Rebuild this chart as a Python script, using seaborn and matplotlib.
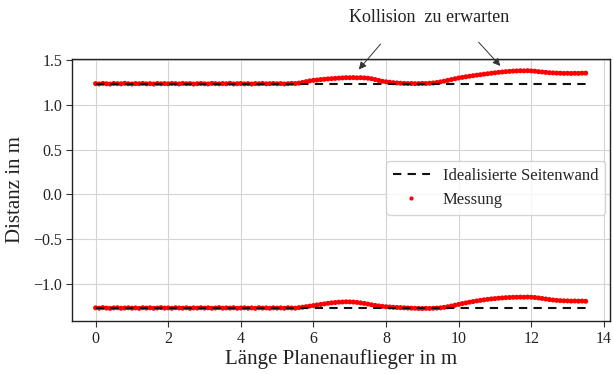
import numpy as np
import pandas as pd
import matplotlib
matplotlib.use("Agg")
import matplotlib.pyplot as plt
import seaborn as sns
from matplotlib.lines import Line2D

# ---- data ----
x_pos = np.round(np.arange(0, 13.55, 0.1), 2)

meas_top = [
    1.236, 1.232, 1.238, 1.234, 1.231, 1.237, 1.235, 1.233, 1.239, 1.234,
    1.232, 1.236, 1.234, 1.238, 1.233, 1.235, 1.231, 1.237, 1.234, 1.236,
    1.233, 1.237, 1.235, 1.232, 1.238, 1.234, 1.236, 1.231, 1.235, 1.237,
    1.234, 1.232, 1.238, 1.235, 1.233, 1.236, 1.234, 1.239, 1.232, 1.235,
    1.237, 1.233, 1.235, 1.231, 1.236, 1.234, 1.238, 1.233, 1.235, 1.237,
    1.234, 1.236, 1.232, 1.235, 1.238, 1.236, 1.241, 1.249, 1.258, 1.266,
    1.272, 1.276, 1.281, 1.284, 1.288, 1.291, 1.294, 1.297, 1.299, 1.302,
    1.301, 1.303, 1.300, 1.302, 1.299, 1.296, 1.290, 1.281, 1.271, 1.262,
    1.256, 1.251, 1.246, 1.243, 1.240, 1.238, 1.236, 1.237, 1.235, 1.236,
    1.238, 1.237, 1.240, 1.243, 1.248, 1.255, 1.263, 1.272, 1.281, 1.290,
    1.298, 1.305, 1.312, 1.318, 1.324, 1.330, 1.335, 1.341, 1.346, 1.351,
    1.356, 1.361, 1.365, 1.369, 1.372, 1.375, 1.377, 1.379, 1.378, 1.380,
    1.377, 1.374, 1.369, 1.365, 1.361, 1.357, 1.355, 1.353, 1.352, 1.350,
    1.351, 1.349, 1.351, 1.350, 1.352, 1.353,
]

meas_bottom = [
    -1.263, -1.267, -1.261, -1.266, -1.269, -1.264, -1.262, -1.268, -1.265, -1.263,
    -1.267, -1.264, -1.269, -1.262, -1.266, -1.263, -1.268, -1.265, -1.261, -1.266,
    -1.264, -1.268, -1.262, -1.265, -1.267, -1.263, -1.269, -1.264, -1.266, -1.262,
    -1.266, -1.263, -1.268, -1.265, -1.261, -1.267, -1.264, -1.266, -1.262, -1.268,
    -1.265, -1.263, -1.267, -1.264, -1.269, -1.262, -1.266, -1.264, -1.268, -1.263,
    -1.266, -1.264, -1.268, -1.262, -1.265, -1.267, -1.261, -1.256, -1.250, -1.244,
    -1.238, -1.231, -1.225, -1.219, -1.213, -1.208, -1.204, -1.200, -1.198, -1.196,
    -1.197, -1.199, -1.203, -1.208, -1.214, -1.221, -1.229, -1.236, -1.242, -1.247,
    -1.251, -1.254, -1.257, -1.259, -1.261, -1.263, -1.265, -1.267, -1.268, -1.270,
    -1.271, -1.269, -1.270, -1.268, -1.266, -1.263, -1.258, -1.251, -1.243, -1.234,
    -1.225, -1.216, -1.208, -1.200, -1.193, -1.186, -1.180, -1.174, -1.169, -1.164,
    -1.160, -1.156, -1.153, -1.150, -1.148, -1.146, -1.145, -1.144, -1.145, -1.143,
    -1.145, -1.148, -1.153, -1.159, -1.165, -1.171, -1.176, -1.180, -1.183, -1.185,
    -1.186, -1.188, -1.187, -1.189, -1.188, -1.190,
]

wall_x = [0.0, 13.5]
wall_top = [1.235, 1.235]
wall_bottom = [-1.265, -1.265]

x_ticks = [0, 2, 4, 6, 8, 10, 12, 14]
y_ticks = [-1.0, -0.5, 0.0, 0.5, 1.0, 1.5]

label_wall = "Idealisierte Seitenwand"
label_meas = "Messung"
annot_text = "Kollision  zu erwarten"

# ---- styling ----
sns.set_theme(style="whitegrid")
plt.rcParams["font.family"] = ["Liberation Serif", "DejaVu Serif"]
plt.rcParams["axes.unicode_minus"] = True

fig = plt.figure(figsize=(6.13, 3.74), dpi=100)
ax = fig.add_axes([72 / 613, 1 - 321 / 374, (610 - 72) / 613, (321 - 59) / 374])

df_top = pd.DataFrame({"x": x_pos, "y": meas_top})
df_bot = pd.DataFrame({"x": x_pos, "y": meas_bottom})
for d in (df_top, df_bot):
    sns.scatterplot(data=d, x="x", y="y", ax=ax, color="#ff0000", s=13,
                    edgecolor="none", zorder=2)

wt = pd.DataFrame({"x": wall_x, "y": wall_top})
wb = pd.DataFrame({"x": wall_x, "y": wall_bottom})
for d in (wt, wb):
    sns.lineplot(data=d, x="x", y="y", ax=ax, color="#111111", lw=1.5,
                 linestyle=(0, (4, 3)), zorder=3)

ax.set_xlim(-0.65, 14.17)
ax.set_ylim(-1.41, 1.51)
ax.set_xticks(x_ticks)
ax.set_yticks(y_ticks)
ax.set_xticklabels([str(t) for t in x_ticks])
ax.set_yticklabels([f"{t:.1f}".replace("-", "\u2212") for t in y_ticks])
ax.tick_params(axis="both", labelsize=11.5, length=4, width=0.8,
               color="#333333", labelcolor="#222222", direction="out",
               bottom=True, left=True, pad=3)
for sp in ax.spines.values():
    sp.set_color("#222222")
    sp.set_linewidth(1.0)
ax.grid(True, color="#d4d4d4", lw=0.8)
ax.set_facecolor("white")

ax.set_xlabel("L\u00e4nge Planenauflieger in m", fontsize=15, color="#222222", labelpad=2)
ax.set_ylabel("Distanz in m", fontsize=15, color="#222222", labelpad=6)

handles = [
    Line2D([], [], color="#111111", lw=1.5, linestyle=(0, (4, 3))),
    Line2D([], [], color="#ff0000", marker="o", markersize=2, linestyle="none"),
]
leg = ax.legend(handles, [label_wall, label_meas], loc="center right",
                fontsize=12, frameon=True, borderaxespad=0.3,
                handlelength=2.2, bbox_to_anchor=(1.0, 0.508))
leg.get_frame().set_edgecolor("#cccccc")

# annotation arrows
ax.text(9.2, 1.97, annot_text, ha="center", va="center", fontsize=13,
        color="#222222", clip_on=False)
arrow_kw = dict(arrowstyle="-|>", color="#333333", lw=0.7, mutation_scale=11)
ax.annotate("", xy=(7.2, 1.37), xytext=(7.9, 1.70), arrowprops=arrow_kw,
            annotation_clip=False)
ax.annotate("", xy=(11.2, 1.41), xytext=(10.5, 1.72), arrowprops=arrow_kw,
            annotation_clip=False)

fig.savefig("out.png", dpi=100)
